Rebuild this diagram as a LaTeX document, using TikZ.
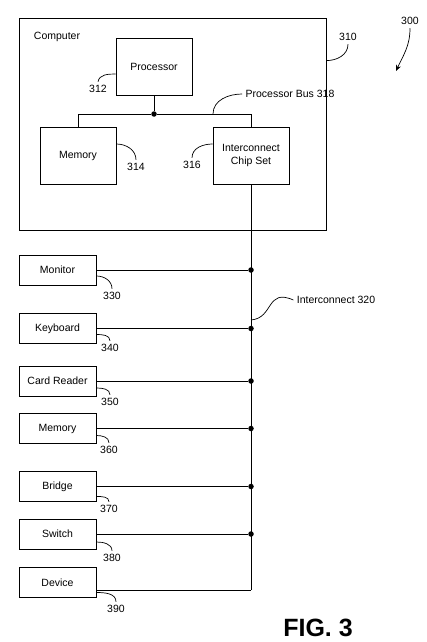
\documentclass[tikz,border=0pt]{standalone}
\usepackage{fontspec}
\setmainfont{Liberation Sans}
\usetikzlibrary{arrows.meta}

\begin{document}
\begin{tikzpicture}[x=1pt,y=-1pt,font=\fontsize{10.5}{13}\selectfont,
    unit/.style={draw,line width=0.8pt,minimum width=76pt,minimum height=57pt,align=center,inner sep=0pt},
    periph/.style={draw,line width=0.8pt,minimum width=77pt,minimum height=30pt,inner sep=0pt},
    wire/.style={line width=1pt},
    lead/.style={line width=0.7pt},
    joint/.style={circle,fill,inner sep=0pt,minimum size=5.5pt}]
    \useasboundingbox (0,0) rectangle (427,642);

    % Computer enclosure
    \node[draw,line width=0.8pt,minimum width=307pt,minimum height=212pt] (comp) at (172.5,124) {};
    \node (complbl) at (57,37) {Computer};
    \node (l310) at (348,37) {310};
    \draw[lead] ([yshift=-43pt]comp.north east) to[out=0,in=-90] (l310.south);

    % Figure reference
    \node (l300) at (410,21) {300};
    \coordinate (a300) at (396,71);
    \draw[lead,-{Stealth[length=6pt,width=5pt]}] (l300.south) to[out=-90,in=65] (a300);

    % Units inside the computer
    \node[unit] (proc) at (154,67) {Processor};
    \node[unit] (mem) at (78,155.5) {Memory};
    \node[unit] (chip) at (251,155.5) {Interconnect\\Chip Set};

    % Processor bus
    \node[joint] (bus) at (154,114) {};
    \draw[wire] (proc.south) -- (bus);
    \draw[wire] (mem.north) |- (bus) -| (chip.north);

    % Leaders inside the computer
    \node (l312) at (98,89) {312};
    \draw[lead] ([yshift=-7pt]proc.west) to[out=180,in=80] (l312.north);
    \node (l314) at (136,167) {314};
    \draw[lead] ([yshift=11.5pt]mem.east) to[out=0,in=90] (l314.north);
    \node (l316) at (192,165) {316};
    \draw[lead] ([yshift=11.5pt]chip.west) to[out=180,in=90] (l316.north);
    \node (lbus) at (290,94) {Processor Bus 318};
    \coordinate (b318) at (213,114);
    \draw[lead] (b318) to[out=90,in=180] (lbus.west);

    % Peripherals
    \node[periph] (mon) at (57.5,270) {Monitor};
    \node[periph] (kbd) at (57.5,328.5) {Keyboard};
    \node[periph] (card) at (57.5,381) {Card Reader};
    \node[periph] (mem2) at (57.5,428.5) {Memory};
    \node[periph] (brg) at (57.5,486.5) {Bridge};
    \node[periph] (sw) at (57.5,534) {Switch};
    \node[periph] (dev) at (57.5,582.5) {Device};

    % Interconnect
    \coordinate (iend) at (251,590);
    \draw[wire] (chip.south) -- (iend);
    \draw[wire] ([yshift=-7.5pt]dev.east) -- (iend);
    \node[joint] (jmon) at (chip.south |- mon.east) {};
    \node[joint] (jkbd) at (chip.south |- kbd.east) {};
    \node[joint] (jcard) at (chip.south |- card.east) {};
    \node[joint] (jmem) at (chip.south |- mem2.east) {};
    \node[joint] (jbrg) at (chip.south |- brg.east) {};
    \node[joint] (jsw) at (chip.south |- sw.east) {};
    \draw[wire] (mon.east) -- (jmon);
    \draw[wire] (kbd.east) -- (jkbd);
    \draw[wire] (card.east) -- (jcard);
    \draw[wire] (mem2.east) -- (jmem);
    \draw[wire] (brg.east) -- (jbrg);
    \draw[wire] (sw.east) -- (jsw);

    \node (l320) at (336,300) {Interconnect 320};
    \coordinate (c320) at (251,320);
    \draw[lead] (c320) .. controls (274,318) and (266,288) .. (l320.west);

    % Peripheral leaders
    \node (l330) at (112,296) {330};
    \draw[lead] ([yshift=-6pt]mon.east) to[out=0,in=90] (l330.north);
    \node (l340) at (110,348) {340};
    \draw[lead] ([yshift=-6pt]kbd.east) to[out=0,in=90] (l340.north);
    \node (l350) at (110,402) {350};
    \draw[lead] ([yshift=-7pt]card.east) to[out=0,in=90] (l350.north);
    \node (l360) at (109,450) {360};
    \draw[lead] ([yshift=-7pt]mem2.east) to[out=0,in=90] (l360.north);
    \node (l370) at (109,509) {370};
    \draw[lead] ([yshift=-10pt]brg.east) to[out=0,in=90] (l370.north);
    \node (l380) at (112,558) {380};
    \draw[lead] ([yshift=-8pt]sw.east) to[out=0,in=90] (l380.north);
    \node (l390) at (116,609) {390};
    \draw[lead] ([yshift=-10pt]dev.east) to[out=0,in=90] (l390.north);

    % Figure title
    \node[font=\bfseries\fontsize{25}{30}\selectfont] (fig) at (318,628) {FIG. 3};
\end{tikzpicture}
\end{document}
